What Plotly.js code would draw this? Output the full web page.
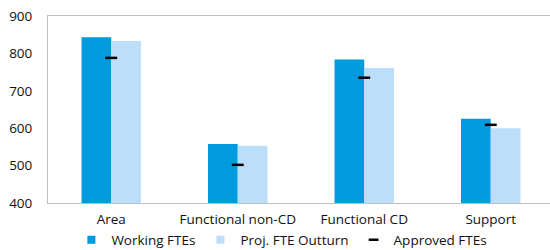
<!DOCTYPE html>
<html>
<head>
<meta charset="utf-8">
<script src="https://cdn.plot.ly/plotly-3.0.1.min.js"></script>
<style>html,body{margin:0;padding:0;overflow:hidden;background:#fff;}#chart{width:556px;height:250px;}</style>
</head>
<body>
<div id="chart"></div>
<script>
const categories = ["Area", "Functional non-CD", "Functional CD", "Support"];
const workingFTEs = [843, 558, 784, 625];
const projOutturn = [833, 553, 761, 600];
const approvedFTEs = [788, 502, 735, 609];
const yTicks = [400, 500, 600, 700, 800, 900];

const cDark = "#009ADE";
const cLight = "#BDDEFB";
const font = "Open Sans, Noto Sans, sans-serif";

const traces = [
  {type: "bar", name: "Working FTEs", x: categories, y: workingFTEs, marker: {color: cDark}, showlegend: false, hoverinfo: "y"},
  {type: "bar", name: "Proj. FTE Outturn", x: categories, y: projOutturn, marker: {color: cLight}, showlegend: false, hoverinfo: "y"},
  {type: "scatter", mode: "markers", name: "Approved FTEs", x: categories, y: approvedFTEs,
   marker: {symbol: "line-ew", size: 8.5, line: {width: 2.5, color: "#000"}}, showlegend: false},
  {type: "scatter", mode: "markers", name: "Working FTEs", x: [null], y: [null], marker: {symbol: "square", size: 8, color: cDark}},
  {type: "scatter", mode: "markers", name: "Proj. FTE Outturn", x: [null], y: [null], marker: {symbol: "square", size: 8, color: cLight}},
  {type: "scatter", mode: "markers", name: "Approved FTEs", x: [null], y: [null], marker: {symbol: "line-ew", size: 7, line: {width: 2.5, color: "#000"}}}
];

const layout = {
  width: 556, height: 250,
  margin: {l: 48, r: 2, t: 16, b: 47},
  paper_bgcolor: "#fff", plot_bgcolor: "#fff",
  barmode: "group", bargap: 0.53, bargroupgap: 0,
  font: {family: font, size: 13, color: "#111"},
  xaxis: {type: "category", showline: true, linecolor: "#BFBFBF", linewidth: 1, mirror: true,
          showgrid: false, ticks: "", ticklabelstandoff: 4, tickfont: {size: 13.5, color: "#111"}},
  yaxis: {range: [400, 900], tickvals: yTicks, showline: true, linecolor: "#BFBFBF", linewidth: 1, mirror: true,
          showgrid: false, zeroline: false, ticks: "", ticklabelstandoff: 12, tickfont: {size: 13.5, color: "#111"}},
  legend: {orientation: "h", xref: "container", yref: "container", x: 0.507, xanchor: "center", y: 0.04, yanchor: "middle",
           bgcolor: "rgba(0,0,0,0)", font: {size: 13.5, color: "#111"}, itemwidth: 30, tracegroupgap: 0},
  showlegend: true
};

Plotly.newPlot("chart", traces, layout, {displayModeBar: false, staticPlot: true});
</script>
</body>
</html>
